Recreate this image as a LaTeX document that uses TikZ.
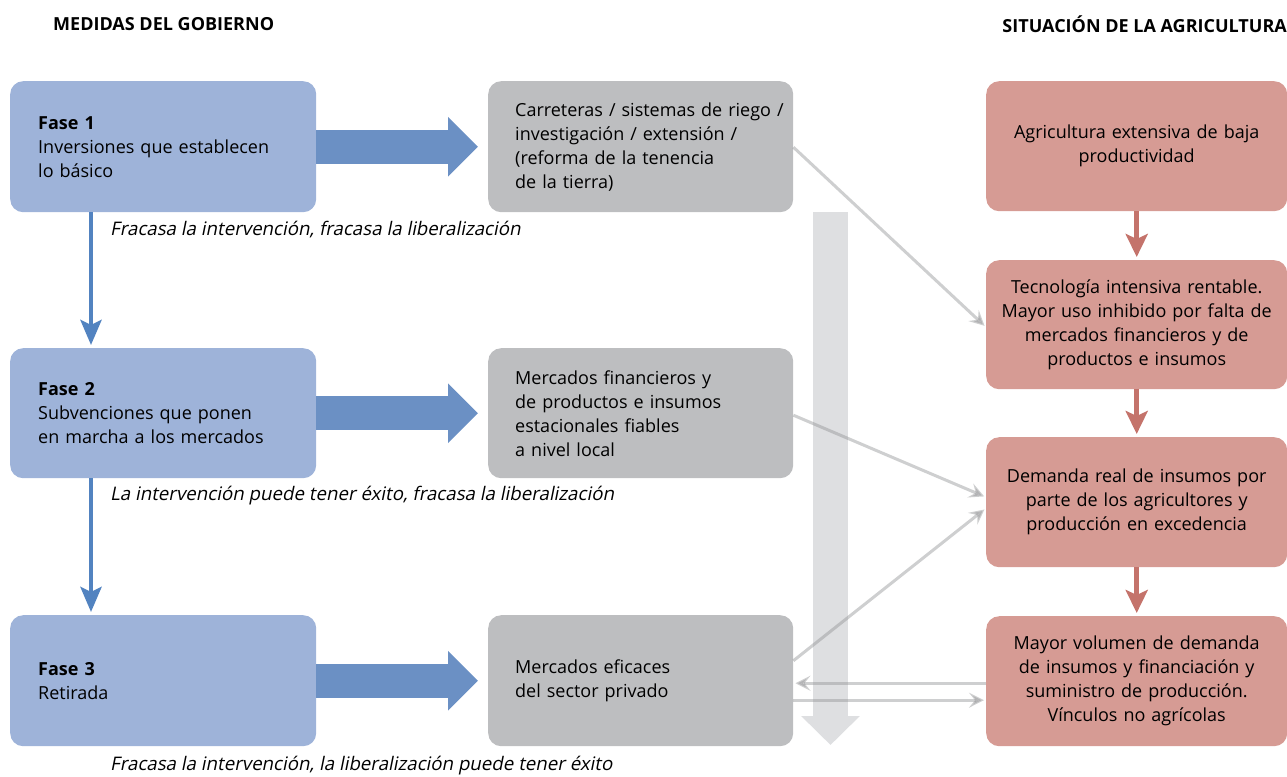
\documentclass[tikz,border=0pt]{standalone}
\usepackage{fontspec}
\setmainfont{Open Sans}
\newfontfamily\slantfont[FakeSlant=0.2]{Open Sans}
\usetikzlibrary{arrows.meta}

\definecolor{faseblue}{HTML}{9EB3D9}
\definecolor{fatblue}{HTML}{6B90C4}
\definecolor{stepblue}{HTML}{5283C0}
\definecolor{boxgray}{HTML}{BDBEC0}
\definecolor{biggray}{HTML}{DEDFE1}
\definecolor{linkgray}{HTML}{939496}
\definecolor{agripink}{HTML}{D69B94}
\definecolor{agriarrow}{HTML}{C4736B}

\newcommand{\bodyfont}{\fontsize{18}{24}\selectfont}

\tikzset{
  fasebox/.style={rectangle, rounded corners=13pt, fill=faseblue, anchor=north west,
    minimum width=306pt, minimum height=131pt, text width=250pt, inner xsep=28pt,
    align=left, font=\bodyfont},
  mercbox/.style={rectangle, rounded corners=13pt, fill=boxgray, anchor=north west,
    minimum width=305pt, minimum height=131pt, text width=251pt, inner xsep=27pt,
    align=left, font=\bodyfont},
  agribox/.style={rectangle, rounded corners=13pt, fill=agripink, anchor=north west,
    minimum width=301pt, minimum height=130pt, text width=289pt, inner xsep=6pt,
    align=center, font=\bodyfont},
  headline/.style={font=\fontsize{18}{22}\selectfont\bfseries, inner sep=0pt},
  verdict/.style={font=\fontsize{18.7}{24}\selectfont\slantfont, inner sep=0pt, anchor=west},
  fatarrow/.style={draw=fatblue, line width=34pt, shorten >=10pt,
    -{Triangle[length=30pt,width=58pt,fill=fatblue]}},
  stepline/.style={draw=stepblue, line width=4.5pt, shorten >=3pt,
    -{Stealth[length=25pt,width=21pt,inset=5pt]}},
  agriline/.style={draw=agriarrow, line width=4.5pt, shorten >=3pt,
    -{Stealth[length=23pt,width=22pt,inset=5pt]}},
  bigarrow/.style={draw=biggray, line width=35pt,
    -{Triangle[length=29pt,width=57pt]}},
  link/.style={draw=linkgray, opacity=0.45, line width=3pt, shorten >=2pt,
    -{Stealth[length=15pt,width=15pt,inset=6pt]}}
}

\begin{document}
\begin{tikzpicture}[x=1pt,y=1pt,yscale=-1,xscale=1]
	\useasboundingbox (0,0) rectangle (1287,776);

	% Titles
	\node[headline, anchor=west] (titgob) at (53,24) {MEDIDAS DEL GOBIERNO};
	\node[headline, anchor=east] (titagri) at (1287,24) {SITUACIÓN DE LA AGRICULTURA};

	% big background arrow
	\coordinate (bigtop) at (830.5,212);
	\coordinate (bigbot) at (830.5,745);
	\draw[bigarrow] (bigtop) -- (bigbot);

	% Phases
	\node[fasebox] (fase1) at (10,81) {\textbf{Fase 1}\\Inversiones que establecen\\lo básico};
	\node[fasebox, minimum height=130pt] (fase2) at (10,348) {\textbf{Fase 2}\\Subvenciones que ponen\\en marcha a los mercados};
	\node[fasebox] (fase3) at (10,615) {\textbf{Fase 3}\\Retirada};

	% Markets
	\node[mercbox] (merc1) at (488,81) {\mbox{Carreteras / sistemas de riego /}\\investigación / extensión /\\(reforma de la tenencia\\de la tierra)};
	\node[mercbox, minimum height=130pt] (merc2) at (488,348) {Mercados financieros y\\de productos e insumos\\estacionales fiables\\a nivel local};
	\node[mercbox] (merc3) at (488,615) {Mercados eficaces\\del sector privado};

	% Agriculture
	\node[agribox] (agri1) at (986,81) {Agricultura extensiva de baja\\productividad};
	\node[agribox, minimum height=129pt] (agri2) at (986,260) {Tecnología intensiva rentable.\\Mayor uso inhibido por falta de\\mercados financieros y de\\productos e insumos};
	\node[agribox] (agri3) at (986,437) {Demanda real de insumos por\\parte de los agricultores y\\producción en excedencia};
	\node[agribox] (agri4) at (986,616) {Mayor volumen de demanda\\de insumos y financiación y\\suministro de producción.\\Vínculos no agrícolas};

	% Verdicts
	\node[verdict] (verd1) at (110,230) {Fracasa la intervención, fracasa la liberalización};
	\node[verdict] (verd2) at (110,496) {La intervención puede tener éxito, fracasa la liberalización};
	\node[verdict] (verd3) at (110,766) {Fracasa la intervención, la liberalización puede tener éxito};

	% Arrows
	\draw[fatarrow] (fase1) -- (merc1);
	\draw[fatarrow] (fase2) -- (merc2);
	\draw[fatarrow] (fase3) -- (merc3);
	\draw[stepline] ([xshift=81pt]fase1.south west) -- ([xshift=81pt]fase2.north west);
	\draw[stepline] ([xshift=81pt]fase2.south west) -- ([xshift=81pt]fase3.north west);
	\draw[agriline] (agri1) -- (agri2);
	\draw[agriline] (agri2) -- (agri3);
	\draw[agriline] (agri3) -- (agri4);

	\draw[link] ([yshift=0.5pt]merc1.east) -- ([yshift=2.5pt]agri2.west);
	\draw[link] ([yshift=2pt]merc2.east) -- ([yshift=-5pt]agri3.west);
	\draw[link] ([yshift=-20pt]merc3.east) -- ([yshift=6pt]agri3.west);
	\draw[link] ([yshift=2pt]agri4.west) -- ([yshift=2.5pt]merc3.east);
	\draw[link] ([yshift=19.5pt]merc3.east) -- ([yshift=19pt]agri4.west);

\end{tikzpicture}
\end{document}
